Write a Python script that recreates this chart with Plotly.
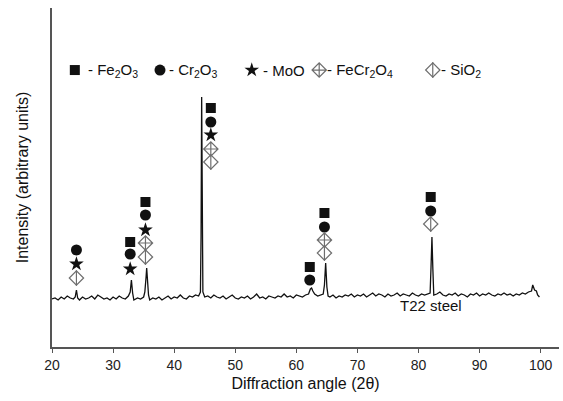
import plotly.graph_objects as go

# ---------------- data ----------------
two_theta = [
    20.0, 20.5, 21.0, 21.5, 22.0, 22.5, 23.0, 23.5, 23.8, 24.0, 24.2,
    24.5, 25.0, 25.5, 26.0, 26.5, 27.0, 27.5, 28.0, 28.5, 29.0, 29.5, 30.0, 30.5, 31.0, 31.5, 32.0, 32.5,
    32.8, 33.0, 33.2, 33.4, 34.0, 34.5, 35.0,
    35.2, 35.4, 35.5, 35.6, 35.8,
    36.0, 36.5, 37.0, 37.5, 38.0, 38.5, 39.0, 39.5, 40.0, 40.5, 41.0, 41.5, 42.0, 42.5, 43.0, 43.5, 44.0,
    44.3, 44.4, 44.5, 44.6, 44.7,
    45.0, 45.5, 46.0, 46.5, 47.0, 47.5, 48.0, 48.5, 49.0, 49.5, 50.0, 50.5, 51.0, 51.5, 52.0, 52.5, 53.0,
    53.5, 54.0, 54.5, 55.0, 55.5, 56.0, 56.5, 57.0, 57.5, 58.0, 58.5, 59.0, 59.5, 60.0, 60.5, 61.0, 61.5,
    62.0, 62.3, 62.5, 62.7, 63.0, 63.5, 64.0, 64.4,
    64.6, 64.8, 65.0, 65.2,
    65.5, 66.0, 66.5, 67.0, 67.5, 68.0, 68.5, 69.0, 69.5, 70.0, 70.5, 71.0, 71.5, 72.0, 72.5, 73.0, 73.5,
    74.0, 74.5, 75.0, 75.5, 76.0, 76.5, 77.0, 77.5, 78.0, 78.5, 79.0, 79.5, 80.0, 80.5, 81.0, 81.5, 81.9,
    82.05, 82.2, 82.35, 82.5,
    83.0, 83.5, 84.0, 84.5, 85.0, 85.5, 86.0, 86.5, 87.0, 87.5, 88.0, 88.5, 89.0, 89.5, 90.0, 90.5, 91.0,
    91.5, 92.0, 92.5, 93.0, 93.5, 94.0, 94.5, 95.0, 95.5, 96.0, 96.5, 97.0, 97.5, 98.0, 98.5,
    98.7, 98.85, 99.0, 99.3, 99.5, 99.8,
]
intensity = [
    48, 49, 47, 50, 48, 51, 49, 48, 50, 57, 49,
    47, 50, 48, 49, 51, 48, 52, 50, 48, 49, 47, 50, 48, 51, 49, 48, 51,
    55, 67, 54, 47, 49, 48, 50,
    55, 70, 79, 70, 52,
    47, 49, 48, 50, 47, 49, 51, 48, 50, 49, 52, 49, 48, 51, 50, 52, 51,
    55, 110, 250, 105, 55,
    50, 51, 49, 52, 50, 49, 51, 48, 50, 52, 49, 48, 50, 49, 51, 48, 50,
    53, 49, 50, 48, 51, 50, 49, 51, 50, 53, 50, 51, 49, 52, 51, 50, 52,
    53, 58, 59, 56, 53, 51, 52, 53,
    62, 84, 60, 51,
    50, 52, 49, 51, 50, 52, 51, 53, 50, 52, 51, 53, 50, 52, 54, 51, 53,
    52, 50, 53, 51, 52, 54, 51, 53, 52, 51, 54, 52, 51, 53, 52, 53, 54,
    80, 110, 78, 52,
    53, 55, 52, 51, 53, 52, 54, 51, 53, 52, 50, 53, 52, 54, 51, 53, 52,
    54, 52, 51, 53, 52, 54, 52, 53, 51, 53, 52, 54, 53, 55, 56,
    62, 60, 57, 56, 52, 50,
]

# phase identification marks above the peaks (2theta, height)
fe2o3_x = [32.8, 35.3, 46.0, 62.2, 64.6, 82.0]
fe2o3_y = [105, 145, 239, 80, 134, 150]
cr2o3_x = [24.0, 32.8, 35.3, 46.0, 62.2, 64.6, 82.0]
cr2o3_y = [97, 93, 132, 225, 67, 120, 136]
moo_x = [24.0, 32.8, 35.3, 46.0]
moo_y = [83, 78, 117, 212]
fecr2o4_x = [35.3, 46.0, 64.6]
fecr2o4_y = [104, 198, 107]
sio2_x = [24.0, 35.3, 46.0, 64.6, 82.0]
sio2_y = [69, 90, 185, 94, 123]

x_ticks = [20, 30, 40, 50, 60, 70, 80, 90, 100]
x_title = "Diffraction angle (2θ)"
y_title = "Intensity (arbitrary units)"
sample_label = "T22 steel"

legend_labels = ["- Fe<sub>2</sub>O<sub>3</sub>", "- Cr<sub>2</sub>O<sub>3</sub>", "- MoO",
                 "- FeCr<sub>2</sub>O<sub>4</sub>", "- SiO<sub>2</sub>"]
# legend key positions (fraction of plot area) -- layout, not data
legend_key_x = [0.045, 0.213, 0.394, 0.527, 0.751]
legend_text_x = [0.068, 0.227, 0.412, 0.539, 0.764]
legend_y = 0.817

FONT = "Liberation Sans, Arial, sans-serif"
BLACK = "#111111"
GRAY = "#6e6e6e"

styles = [
    dict(symbol="square", size=10, color=BLACK, line=dict(width=0)),
    dict(symbol="circle", size=11, color=BLACK, line=dict(width=0)),
    dict(symbol="star", size=11, color=BLACK, line=dict(width=0)),
    dict(symbol="diamond-cross-open", size=11, color=GRAY, line=dict(width=1.2, color=GRAY)),
    dict(symbol="diamond-open", size=11, color=GRAY, line=dict(width=1.2, color=GRAY)),
]
sio2_line = dict(symbol="line-ns-open", size=11, color=GRAY, line=dict(width=1.2, color=GRAY))

fig = go.Figure()
fig.add_trace(go.Scatter(x=two_theta, y=intensity, mode="lines",
                         line=dict(color=BLACK, width=1.3), showlegend=False, hoverinfo="skip"))

phase_sets = [(fe2o3_x, fe2o3_y), (cr2o3_x, cr2o3_y), (moo_x, moo_y),
              (fecr2o4_x, fecr2o4_y), (sio2_x, sio2_y)]
for (px, py), st in zip(phase_sets, styles):
    fig.add_trace(go.Scatter(x=px, y=py, mode="markers", marker=st, showlegend=False))
fig.add_trace(go.Scatter(x=sio2_x, y=sio2_y, mode="markers", marker=sio2_line, showlegend=False))

# hand-made legend on an overlay axis (0..1 in both directions)
for kx, st in zip(legend_key_x, styles):
    fig.add_trace(go.Scatter(x=[kx], y=[legend_y], mode="markers", marker=st,
                             xaxis="x2", yaxis="y2", showlegend=False))
fig.add_trace(go.Scatter(x=[legend_key_x[4]], y=[legend_y], mode="markers", marker=sio2_line,
                         xaxis="x2", yaxis="y2", showlegend=False))
for tx, lab in zip(legend_text_x, legend_labels):
    fig.add_annotation(x=tx, y=legend_y, xref="paper", yref="paper", text=lab,
                       showarrow=False, xanchor="left", yanchor="middle",
                       font=dict(family=FONT, size=15, color=BLACK))

fig.add_annotation(x=82.0, y=42, xref="x", yref="y", text=sample_label, showarrow=False,
                   font=dict(family=FONT, size=15, color=BLACK))

fig.update_layout(
    width=563, height=401,
    margin=dict(l=52, r=4, t=8, b=54),
    paper_bgcolor="white", plot_bgcolor="white",
    font=dict(family=FONT, color=BLACK),
    xaxis=dict(range=[20, 103], tickvals=x_ticks, ticks="outside", ticklen=4, tickwidth=1.2,
               tickcolor="#555555", showline=True, linecolor="#555555", linewidth=1.5,
               showgrid=False, zeroline=False, tickfont=dict(size=14, color="#222222"),
               title=dict(text=x_title, font=dict(size=16, color=BLACK), standoff=6)),
    yaxis=dict(range=[0, 339], showticklabels=False, ticks="", showline=True,
               linecolor="#555555", linewidth=1.5, showgrid=False, zeroline=False,
               title=dict(text=y_title, font=dict(size=16, color=BLACK), standoff=18)),
    xaxis2=dict(range=[0, 1], overlaying="x", visible=False, anchor="y2"),
    yaxis2=dict(range=[0, 1], overlaying="y", visible=False, anchor="x2"),
)

fig.write_html("out.html")
